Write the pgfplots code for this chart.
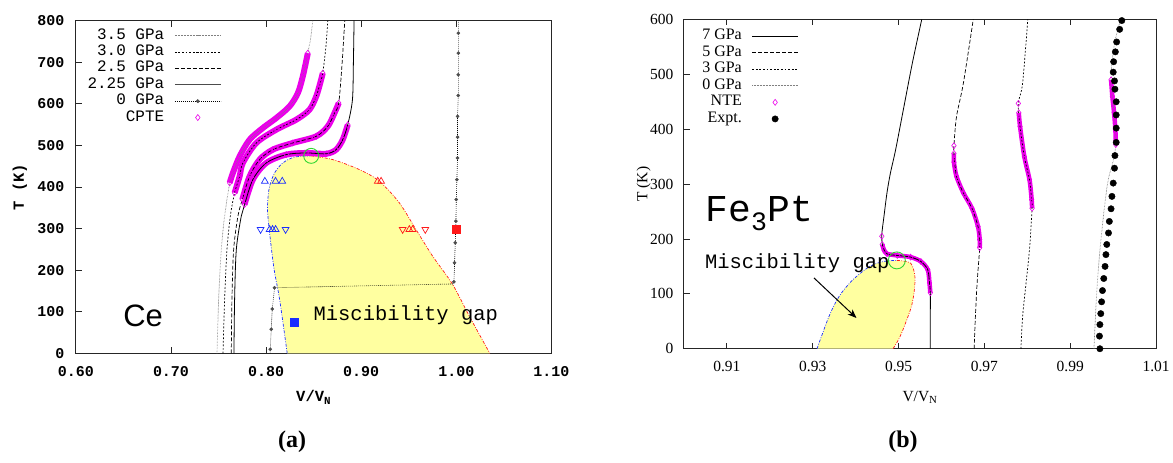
\documentclass[border=0pt]{standalone}
\usepackage{pgfplots}
\pgfplotsset{compat=1.18}
\usetikzlibrary{arrows.meta}
\usepackage{fontspec}
\setmainfont{Liberation Serif}
\newfontfamily\cour{Liberation Mono}
\newfontfamily\tms{Liberation Serif}
\newfontfamily\helv{Liberation Sans}
\definecolor{gapyellow}{RGB}{255,255,160}
\definecolor{cpte}{RGB}{235,0,235}
\definecolor{cgreen}{RGB}{50,215,50}
\definecolor{cblue}{RGB}{25,45,255}
\definecolor{cred}{RGB}{255,25,25}
\pgfplotsset{
  legend image code/.code={\draw[mark repeat=2,mark phase=2,#1] plot coordinates {(0pt,0pt) (23pt,0pt) (46pt,0pt)};},
  myaxis/.style={scale only axis, axis line style={line width=0.9pt, black!85},
    tick style={line width=0.8pt, black!85}, major tick length=6pt,
    tick align=inside, xtick pos=both, ytick pos=left,
    /pgf/number format/assume math mode=true,
    legend cell align=right, legend plot pos=right},
  band/.style={cpte, line width=6pt, line join=round, smooth, forget plot},
  bandmk/.style={only marks, mark=diamond, mark size=3pt, mark options={draw=cpte, fill=none, line width=0.6pt}, forget plot},
  dash35/.style={gray, line width=0.7pt, dash pattern=on 0.6pt off 0.9pt},
  dash30/.style={black, line width=0.7pt, dash pattern=on 1.8pt off 1.8pt},
  dash25/.style={black, line width=0.7pt, dash pattern=on 4pt off 2pt},
  dashdot/.style={line width=0.7pt, dash pattern=on 3pt off 1.5pt on 0.8pt off 1.5pt},
}
\begin{document}
\begin{tikzpicture}
\path (0pt,0pt) rectangle (1173pt,463pt);
% ---------------- panel (a) ----------------
\begin{axis}[myaxis,
  at={(76pt,109pt)}, anchor=south west,
  width=476.3pt, height=333.3pt,
  xmin=0.6, xmax=1.1, ymin=0, ymax=800,
  xtick={0.6,0.7,0.8,0.9,1.0,1.1},
  ytick={0,100,200,300,400,500,600,700,800},
  xticklabel={\pgfmathprintnumber[fixed,fixed zerofill,precision=2]{\tick}},
  tick label style={font=\cour\bfseries\fontsize{15}{15}\selectfont},
  xticklabel style={yshift=-10pt}, yticklabel style={xshift=-8pt},
  xlabel={\cour\bfseries V/V\textsubscript{N}},
  ylabel={\cour\bfseries T (K)},
  label style={font=\cour\fontsize{15.5}{15.5}\selectfont},
  xlabel style={at={(axis description cs:0.5,-0.132)}, anchor=center},
  ylabel style={at={(axis description cs:-0.1176,0.5)}, anchor=center},
  legend style={at={(axis description cs:0.3065,0.978)}, anchor=north east, draw=none, fill=none, inner sep=0pt,
    font=\cour\fontsize{16}{16}\selectfont, column sep=9pt, row sep=1.4pt,
    nodes={inner sep=1pt, text height=10pt, text depth=3pt}},
]
% miscibility gap
\addplot[fill=gapyellow, draw=none, smooth, forget plot] coordinates {
(0.8222,0) (0.8142,130) (0.8079,210) (0.8019,330) (0.8019,370) (0.8037,402) (0.8089,434) (0.8176,458) (0.8299,472) (0.8474,475) (0.8701,466) (0.8981,442) (0.9191,414) (0.9401,362) (0.9576,298) (0.9751,234) (0.9961,166) (1.0136,90) (1.0353,0)} -- cycle;
\addplot[cblue, dashdot, smooth, forget plot] coordinates {
(0.8222,0) (0.8142,130) (0.8079,210) (0.8019,330) (0.8019,370) (0.8037,402) (0.8089,434) (0.8176,458) (0.8299,472) (0.8474,475)};
\addplot[cred, dashdot, smooth, forget plot] coordinates {
(0.8474,475) (0.8701,466) (0.8981,442) (0.9191,414) (0.9401,362) (0.9576,298) (0.9751,234) (0.9961,166) (1.0136,90) (1.0353,0)};
% CPTE bands
\addplot[band] coordinates {(0.7617,410) (0.7651,434) (0.7722,474) (0.7827,514) (0.7966,542) (0.8107,566) (0.8247,594) (0.8334,626) (0.8386,666) (0.8439,722)};
\addplot[bandmk] coordinates {(0.7617,410) (0.7651,434) (0.7722,474) (0.7827,514) (0.7966,542) (0.8107,566) (0.8247,594) (0.8334,626) (0.8386,666) (0.8439,722)};
\addplot[band] coordinates {(0.7669,386) (0.7722,426) (0.7756,458) (0.7897,506) (0.8107,538) (0.8317,562) (0.8456,586) (0.8527,618) (0.8569,650) (0.8596,674)};
\addplot[bandmk] coordinates {(0.7669,386) (0.7722,426) (0.7756,458) (0.7897,506) (0.8107,538) (0.8317,562) (0.8456,586) (0.8527,618) (0.8569,650) (0.8596,674)};
\addplot[band] coordinates {(0.7750,370) (0.7827,426) (0.7932,466) (0.8071,490) (0.8281,506) (0.8527,522) (0.8649,546) (0.8719,578) (0.8764,602)};
\addplot[bandmk] coordinates {(0.7750,370) (0.7827,426) (0.7932,466) (0.8071,490) (0.8281,506) (0.8527,522) (0.8649,546) (0.8719,578) (0.8764,602)};
\addplot[band] coordinates {(0.7774,358) (0.7861,418) (0.8002,458) (0.8212,478) (0.8422,482) (0.8632,480) (0.8737,490) (0.8806,514) (0.8859,550)};
\addplot[bandmk] coordinates {(0.7774,358) (0.7861,418) (0.8002,458) (0.8212,478) (0.8422,482) (0.8632,480) (0.8737,490) (0.8806,514) (0.8859,550)};
% pressure curves
\addplot[dash35, smooth, forget plot] coordinates {(0.7484,0) (0.7501,130) (0.7529,250) (0.7564,330) (0.7617,410) (0.7651,434) (0.7722,474) (0.7827,514) (0.7966,542) (0.8107,566) (0.8247,594) (0.8334,626) (0.8386,666) (0.8439,722) (0.8470,760) (0.8491,800)};
\addplot[dash30, smooth, forget plot] coordinates {(0.7547,0) (0.7564,130) (0.7589,250) (0.7624,330) (0.7669,386) (0.7722,426) (0.7756,458) (0.7897,506) (0.8107,538) (0.8317,562) (0.8456,586) (0.8527,618) (0.8569,650) (0.8596,674) (0.8630,740) (0.8649,800)};
\addplot[dash25, smooth, forget plot] coordinates {(0.7634,0) (0.7641,130) (0.7659,250) (0.7704,330) (0.7750,370) (0.7827,426) (0.7932,466) (0.8071,490) (0.8281,506) (0.8527,522) (0.8649,546) (0.8719,578) (0.8764,602) (0.8800,700) (0.8827,800)};
\addplot[black, line width=0.8pt, smooth, forget plot] coordinates {(0.7662,0) (0.7669,130) (0.7687,250) (0.7739,330) (0.7774,358) (0.7861,418) (0.8002,458) (0.8212,478) (0.8422,482) (0.8632,480) (0.8737,490) (0.8806,514) (0.8859,550) (0.8908,610) (0.8918,700) (0.8925,800)};
% 0 GPa
\addplot[black, line width=0.6pt, dash pattern=on 0.8pt off 1.2pt, forget plot] coordinates {(0.8042,0) (0.8044,10) (0.8054,58) (0.8065,107) (0.8089,158) (0.9961,167) (0.9975,172) (0.9982,218) (0.9989,266) (0.9996,318) (1.0000,370) (1.0006,418) (1.0013,470) (1.0013,520) (1.0013,570) (1.0021,620) (1.0021,670) (1.0021,722) (1.0021,770) (1.0021,800)};
\addplot[only marks, mark=*, mark size=1.6pt, mark options={fill=black!70, draw=black!70}, forget plot] coordinates {(0.8044,10) (0.8054,58) (0.8065,107) (0.8089,158) (0.9975,172) (0.9982,218) (0.9989,266) (0.9996,318) (1.0000,370) (1.0006,418) (1.0013,470) (1.0013,520) (1.0013,570) (1.0021,620) (1.0021,670) (1.0021,722) (1.0021,770)};
% triangles
\addplot[only marks, mark=triangle, mark size=3.9pt, mark options={draw=cblue, line width=0.7pt}, forget plot] coordinates {(0.7987,414) (0.8099,414) (0.8170,414) (0.8037,298) (0.8068,298) (0.8100,298)};
\addplot[only marks, mark=triangle, mark size=3.9pt, mark options={draw=cblue, line width=0.7pt, rotate=180}, forget plot] coordinates {(0.7942,298) (0.8205,298)};
\addplot[only marks, mark=triangle, mark size=3.9pt, mark options={draw=cred, line width=0.7pt}, forget plot] coordinates {(0.9174,414) (0.9209,414) (0.9506,298) (0.9541,298)};
\addplot[only marks, mark=triangle, mark size=3.9pt, mark options={draw=cred, line width=0.7pt, rotate=180}, forget plot] coordinates {(0.9436,298) (0.9674,298)};
\addplot[only marks, mark=square*, mark size=4pt, mark options={fill=cred, draw=cred}, forget plot] coordinates {(0.9996,298)};
\addplot[only marks, mark=square*, mark size=4pt, mark options={fill=cblue, draw=cblue}, forget plot] coordinates {(0.8292,75)};
\addplot[only marks, mark=o, mark size=7.5pt, mark options={draw=cgreen, line width=0.9pt}, forget plot] coordinates {(0.8474,475)};
\node[anchor=base west, font=\cour\fontsize{20.5}{20.5}\selectfont, inner sep=0pt] at (axis cs:0.8498,80) {Miscibility gap};
\node[anchor=base west, font=\helv\fontsize{31}{31}\selectfont, inner sep=0pt] at (axis cs:0.6497,64) {Ce};
% legend
\addlegendimage{dash35}\addlegendentry{3.5 GPa}
\addlegendimage{dash30}\addlegendentry{3.0 GPa}
\addlegendimage{dash25}\addlegendentry{2.5 GPa}
\addlegendimage{black!70, line width=1.3pt}\addlegendentry{2.25 GPa}
\addlegendimage{black, line width=0.6pt, dash pattern=on 0.8pt off 1.2pt, mark=*, mark size=1.6pt, mark options={fill=black!70, draw=black!70, solid}}\addlegendentry{0 GPa}
\addlegendimage{only marks, mark=diamond, mark size=3pt, mark options={draw=cpte, line width=0.6pt}}\addlegendentry{CPTE}
\end{axis}
% ---------------- panel (b) ----------------
\begin{axis}[myaxis,
  at={(685pt,113.7pt)}, anchor=south west,
  width=473pt, height=329.8pt,
  xmin=0.90, xmax=1.01, ymin=0, ymax=600,
  xtick={0.91,0.93,0.95,0.97,0.99,1.01},
  ytick={0,100,200,300,400,500,600},
  xticklabel={\pgfmathprintnumber[fixed,fixed zerofill,precision=2]{\tick}},
  tick label style={font=\tms\fontsize{15.5}{15.5}\selectfont},
  xticklabel style={yshift=-9pt}, yticklabel style={xshift=-7pt},
  xlabel={\tms V/V\textsubscript{N}},
  ylabel={\tms T (K)},
  label style={font=\tms\fontsize{15.5}{15.5}\selectfont},
  xlabel style={at={(axis description cs:0.5,-0.149)}, anchor=center},
  ylabel style={at={(axis description cs:-0.085,0.5)}, anchor=center},
  legend style={at={(axis description cs:0.2431,0.973)}, anchor=north east, draw=none, fill=none, inner sep=0pt,
    font=\tms\fontsize{16}{16}\selectfont, column sep=9pt, row sep=1.6pt,
    nodes={inner sep=1pt, text height=10pt, text depth=3pt}},
]
\addplot[fill=gapyellow, draw=none, smooth, forget plot] coordinates {
(0.9310,0) (0.9338,59) (0.9362,96) (0.9394,126) (0.9433,150) (0.9465,159) (0.9496,161) (0.9528,156) (0.9538,132) (0.9536,102) (0.9528,72) (0.9504,23) (0.9487,0)} -- cycle;
\addplot[cblue, dashdot, smooth, forget plot] coordinates {(0.9310,0) (0.9338,59) (0.9362,96) (0.9394,126) (0.9433,150) (0.9465,159) (0.9496,161)};
\addplot[cred, dashdot, smooth, forget plot] coordinates {(0.9496,161) (0.9528,156) (0.9538,132) (0.9536,102) (0.9528,72) (0.9504,23) (0.9487,0)};
% NTE bands
\addplot[band, line width=4.5pt] coordinates {(0.9462,190) (0.9466,180) (0.9473,173) (0.9497,170) (0.9528,167) (0.9552,159) (0.9568,144) (0.9572,120) (0.9574,102)};
\addplot[bandmk] coordinates {(0.9461,205) (0.9462,190) (0.9466,180) (0.9473,173) (0.9497,170) (0.9528,167) (0.9552,159) (0.9568,144) (0.9572,120) (0.9574,102)};
\addplot[band, line width=4.5pt] coordinates {(0.9689,184) (0.9689,199) (0.9685,223) (0.9671,256) (0.9651,284) (0.9635,314) (0.9629,340) (0.9629,356)};
\addplot[bandmk] coordinates {(0.9689,184) (0.9689,199) (0.9685,223) (0.9671,256) (0.9651,284) (0.9635,314) (0.9629,340) (0.9629,356) (0.9629,370)};
\addplot[band, line width=4.5pt] coordinates {(0.9811,256) (0.9810,272) (0.9805,308) (0.9793,350) (0.9783,405) (0.9780,430)};
\addplot[bandmk] coordinates {(0.9811,256) (0.9810,272) (0.9805,308) (0.9793,350) (0.9783,405) (0.9780,430) (0.9779,447)};
\addplot[band, line width=4.5pt] coordinates {(1.0006,372) (1.0005,400) (1.0002,430) (0.9998,460) (0.9995,490)};
\addplot[bandmk] coordinates {(1.0006,372) (1.0005,400) (1.0002,430) (0.9998,460) (0.9995,490)};
% curves
\addplot[black, line width=0.8pt, smooth, forget plot] coordinates {(0.9574,0) (0.9574,60) (0.9574,102) (0.9572,120) (0.9568,144) (0.9552,159) (0.9528,167) (0.9497,170) (0.9473,173) (0.9463,187) (0.9461,208) (0.9466,241) (0.9473,284) (0.9481,320) (0.9493,362) (0.9511,435) (0.9532,520) (0.9554,600)};
\addplot[dash25, smooth, forget plot] coordinates {(0.9676,0) (0.9679,59) (0.9683,120) (0.9689,184) (0.9689,199) (0.9685,223) (0.9671,256) (0.9651,284) (0.9635,314) (0.9629,356) (0.9629,370) (0.9635,423) (0.9651,484) (0.9674,600)};
\addplot[dash30, smooth, forget plot] coordinates {(0.9785,0) (0.9789,59) (0.9797,120) (0.9805,181) (0.9811,256) (0.9810,272) (0.9805,308) (0.9793,350) (0.9783,405) (0.9779,447) (0.9789,484) (0.9801,600)};
\addplot[dash35, smooth, forget plot] coordinates {(0.9955,0) (0.9963,120) (0.9973,211) (0.9987,302) (1.0001,345) (1.0006,372) (1.0005,400) (1.0002,430) (0.9998,460) (0.9995,490) (0.9997,520) (1.0004,560) (1.0017,600)};
% experiment
\addplot[only marks, mark=*, mark size=3.2pt, mark options={fill=black, draw=black}, forget plot] coordinates {
(0.9969,0) (0.9968,23) (0.9969,44) (0.9971,64) (0.9973,85.5) (0.9975,106) (0.9978,128) (0.9981,150) (0.9983,171.5) (0.9985,190) (0.9989,211) (0.9991,232) (0.9995,255) (0.9997,277.6) (1.0000,301.8) (1.0003,329) (1.0004,352) (1.0007,376) (1.0007,402) (1.0007,426) (1.0007,450) (1.0004,473) (1.0003,488) (1.0000,504) (1.0001,523) (1.0005,541) (1.0008,559) (1.0015,582) (1.0020,598)};
\addplot[only marks, mark=o, mark size=8.5pt, mark options={draw=cgreen, line width=0.9pt}, forget plot] coordinates {(0.9496,161)};
\node[anchor=base west, font=\cour\fontsize{38}{38}\selectfont, inner sep=0pt] at (axis cs:0.9050,232) {Fe\textsubscript{3}Pt};
\node[anchor=base west, font=\cour\fontsize{20.5}{20.5}\selectfont, inner sep=0pt] at (axis cs:0.9049,146) {Miscibility gap};
\draw[-{Stealth[length=9pt,width=7pt]}, line width=1pt] (axis cs:0.9303,129) -- (axis cs:0.9402,56);
% legend
\addlegendimage{black, line width=0.8pt}\addlegendentry{7 GPa}
\addlegendimage{dash25}\addlegendentry{5 GPa}
\addlegendimage{dash30}\addlegendentry{3 GPa}
\addlegendimage{dash35}\addlegendentry{0 GPa}
\addlegendimage{only marks, mark=diamond, mark size=3pt, mark options={draw=cpte, line width=0.6pt}}\addlegendentry{NTE}
\addlegendimage{only marks, mark=*, mark size=3.2pt, mark options={fill=black, draw=black}}\addlegendentry{Expt.}
\end{axis}
\node[font=\tms\bfseries\fontsize{24}{24}\selectfont] at (292.5pt,21pt) {(a)};
\node[font=\tms\bfseries\fontsize{24}{24}\selectfont] at (904.5pt,21pt) {(b)};
\end{tikzpicture}
\end{document}
